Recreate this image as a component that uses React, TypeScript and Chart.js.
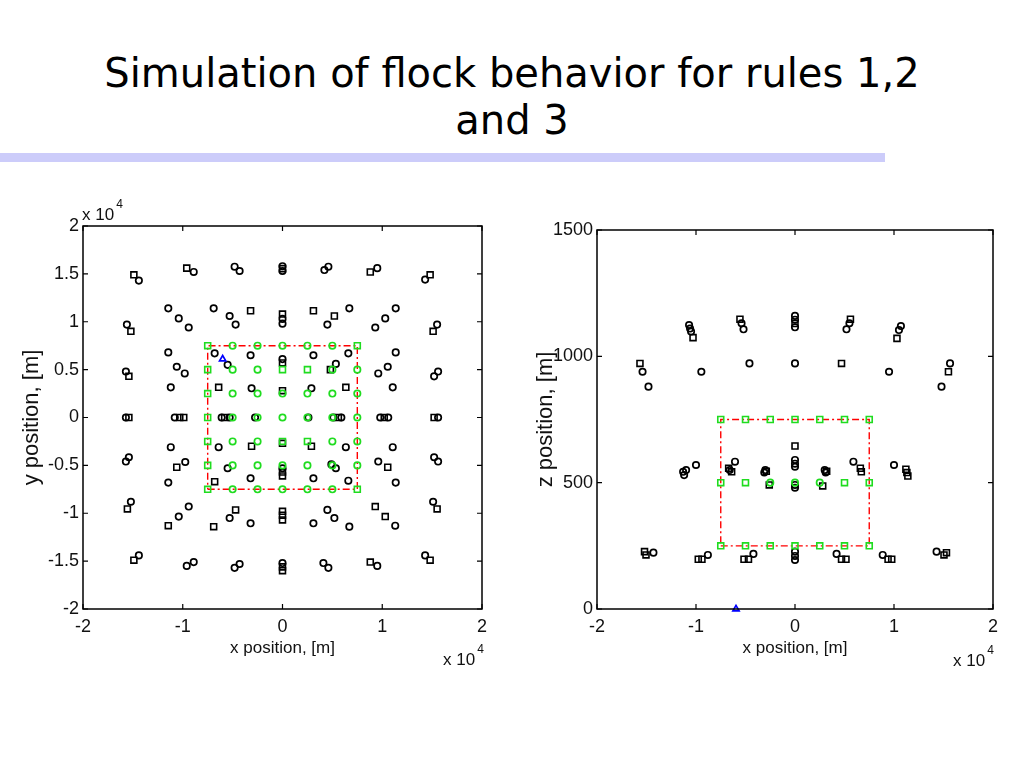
import React, { useEffect, useRef } from "react";
import { Chart, registerables } from "chart.js";

Chart.register(...registerables);

type P = [number, number];

// ---------- tick labels ----------
const xTicks = [-2, -1, 0, 1, 2];
const leftYTicks = [-2, -1.5, -1, -0.5, 0, 0.5, 1, 1.5, 2];
const rightYTicks = [0, 500, 1000, 1500];

// ---------- left panel: x–y plane (x in units of 1e4 m) ----------
const leftBlackCircles: P[] = [
  [-1.44, 1.43], [-0.89, 1.52], [-0.48, 1.575], [-0.43, 1.53], [0, 1.58], [0, 1.53],
  [0.42, 1.54], [0.46, 1.575], [0.95, 1.56], [1.43, 1.44],
  [-1.145, 1.14], [-1.04, 1.035], [-0.94, 0.94], [-0.69, 1.14], [-0.53, 1.06], [-0.47, 0.97],
  [0, 1.03], [0, 0.98], [0.45, 0.97], [0.67, 1.14], [0.93, 0.94], [1.03, 1.035], [1.135, 1.14],
  [-1.56, 0.97], [1.55, 0.97],
  [-1.57, 0.48], [-1.57, 0], [-1.57, -0.46], [-1.54, -0.415],
  [1.52, 0.43], [1.56, 0.48], [1.56, 0], [1.52, -0.415], [1.56, -0.46],
  [-1.145, 0.68], [-1.06, 0.53], [-0.98, 0.46], [-1.12, 0.315], [-1.08, 0],
  [-1.12, -0.31], [-0.975, -0.465], [-1.145, -0.68],
  [1.135, 0.68], [1.055, 0.53], [0.96, 0.46], [1.105, 0.315], [0.98, 0], [1.06, 0],
  [1.105, -0.31], [0.96, -0.46], [1.135, -0.68],
  [-0.68, 0.67], [-0.55, 0.55], [-0.61, 0], [-0.53, 0], [-0.64, -0.31], [-0.55, -0.53],
  [-0.32, 0.65], [-0.31, 0.305], [-0.275, 0], [-0.32, -0.635],
  [0, 0.61], [0, -0.53],
  [0.31, 0.65], [0.29, 0.305], [0.26, 0], [0.31, -0.635],
  [0.535, 0.56], [0.51, 0], [0.59, 0], [0.635, -0.31], [0.535, -0.53], [0.49, -0.49],
  [0.66, 0.67], [0.66, -0.66],
  [-1.52, -0.88], [-0.94, -0.93], [-1.04, -1.035], [-0.53, -1.05], [-0.32, -1.105],
  [0.31, -1.105], [0.45, -0.965], [0.52, -1.05], [0.67, -1.14], [1.13, -1.13], [1.51, -0.88],
  [-1.44, -1.44], [-0.96, -1.55], [-0.89, -1.51], [-0.48, -1.57], [-0.43, -1.53],
  [0, -1.52], [0.41, -1.52], [0.46, -1.57], [0.95, -1.55], [1.43, -1.44],
];
const leftBlackSquares: P[] = [
  [-1.49, 1.49], [-0.96, 1.56], [0, 1.555], [0.88, 1.52], [1.48, 1.49],
  [-0.32, 1.115], [0, 1.08], [0.31, 1.115], [0.52, 1.06],
  [-1.52, 0.9], [1.51, 0.9],
  [-1.54, 0.43], [-1.54, 0], [1.52, 0],
  [-1.03, 0], [-0.99, 0], [-1.06, -0.52], [1.02, 0], [1.055, -0.52],
  [-0.64, 0.315], [-0.58, 0], [-0.68, -0.67], [-0.31, -0.3],
  [0, 0.57], [0, 0.28], [0, -0.27], [0, -0.57], [0, -0.61],
  [0.29, -0.3], [0.48, 0.5], [0.635, 0.315], [0.56, 0],
  [-1.555, -0.955], [-1.145, -1.13], [-0.47, -0.965], [-0.69, -1.14],
  [0, -0.98], [0, -1.02], [0, -1.07], [0.93, -0.93], [1.03, -1.035], [1.55, -0.955],
  [-1.49, -1.49], [0, -1.56], [0, -1.6], [0.88, -1.51], [1.48, -1.49],
];
const leftGreenCircles: P[] = [
  [-0.5, 0.75], [-0.25, 0.75], [0, 0.75], [0.25, 0.75], [0.5, 0.75],
  [-0.5, 0.5], [-0.25, 0.5], [0.5, 0.5], [0.75, 0.5],
  [-0.5, 0.25], [-0.25, 0.25], [0, 0.25], [0.25, 0.25], [0.5, 0.25], [0.75, 0.25],
  [-0.5, 0], [-0.25, 0], [0, 0], [0.25, 0], [0.5, 0], [0.75, 0],
  [-0.5, -0.25], [-0.25, -0.25], [0.5, -0.25], [0.75, -0.25],
  [-0.5, -0.5], [-0.25, -0.5], [0, -0.5], [0.25, -0.5], [0.5, -0.5], [0.75, -0.5],
  [-0.5, -0.75], [-0.25, -0.75], [0, -0.75], [0.25, -0.75], [0.5, -0.75],
];
const leftGreenSquares: P[] = [
  [-0.75, 0.75], [-0.75, 0.5], [-0.75, 0.25], [-0.75, 0], [-0.75, -0.25], [-0.75, -0.5],
  [-0.75, -0.75], [0.75, 0.75], [0.75, -0.75], [0.25, 0.5], [0, 0.5], [0.25, -0.25], [0, -0.25],
];
const leftBox: P[] = [[-0.75, -0.75], [0.75, -0.75], [0.75, 0.75], [-0.75, 0.75], [-0.75, -0.75]];
const leftLeader: P[] = [[-0.6, 0.61]];

// ---------- right panel: x–z plane ----------
const rightBlackCircles: P[] = [
  [-1.54, 939], [-1.48, 880], [-1.07, 1124], [-1.06, 1110], [-1.05, 1098], [-0.946, 939],
  [-0.54, 1131], [-0.52, 1107], [-0.46, 972], [0, 1160], [0, 1145], [0, 1115], [0, 972],
  [0.52, 1107], [0.55, 1131], [0.95, 939], [1.05, 1104], [1.07, 1120], [1.48, 880], [1.566, 972],
  [0, 590], [0, 575], [0, 563], [-0.606, 583], [-0.66, 550], [-1.0, 570], [-1.13, 543],
  [-1.12, 530], [-1.1, 550], [-0.3, 550], [-0.31, 540], [0, 491], [0, 480],
  [0.3, 550], [0.31, 540], [0.59, 583], [1.0, 570],
  [-1.43, 223], [-0.88, 214], [-0.42, 218], [0, 227], [0, 210], [0, 194],
  [0.42, 218], [0.886, 214], [1.43, 227],
];
const rightBlackSquares: P[] = [
  [-1.566, 972], [-1.03, 1074], [-0.556, 1147], [0, 1130], [0.47, 972], [0.56, 1147],
  [1.03, 1071], [1.55, 939],
  [0, 645], [-0.67, 557], [-0.64, 543], [-0.29, 545], [-0.26, 491], [0.28, 487], [0.32, 545],
  [0.66, 557], [0.67, 543], [1.12, 553], [1.13, 540], [1.14, 526],
  [-1.52, 227], [-1.505, 214], [-0.977, 197], [-0.94, 197], [-0.515, 197], [-0.47, 197],
  [0.47, 197], [0.515, 197], [0.94, 197], [0.977, 197], [1.505, 214], [1.53, 223],
];
const rightGreenCircles: P[] = [[-0.25, 500], [0, 500], [0.25, 500]];
const rightGreenSquares: P[] = [
  [-0.75, 750], [-0.5, 750], [-0.25, 750], [0, 750], [0.25, 750], [0.5, 750], [0.75, 750],
  [-0.75, 500], [-0.5, 500], [0.5, 500], [0.75, 500],
  [-0.75, 250], [-0.5, 250], [-0.25, 250], [0, 250], [0.25, 250], [0.5, 250], [0.75, 250],
];
const rightBox: P[] = [[-0.75, 250], [0.75, 250], [0.75, 750], [-0.75, 750], [-0.75, 250]];
const rightLeader: P[] = [[-0.596, 0]];

// ---------- helpers ----------
const pts = (a: P[]) => a.map(([x, y]) => ({ x, y }));
const BLACK = "#000000";
const GREEN = "#1fdc1f";
const RED = "#ff0000";
const BLUE = "#0000ff";
const FONT = "'Liberation Sans', Arial, sans-serif";

const framePlugin = {
  id: "matlabFrame",
  afterDatasetsDraw(chart: any) {
    const { ctx, chartArea: a, scales } = chart;
    ctx.save();
    ctx.strokeStyle = "#000";
    ctx.lineWidth = 1.5;
    ctx.strokeRect(a.left, a.top, a.right - a.left, a.bottom - a.top);
    ctx.lineWidth = 1.2;
    const L = 5;
    ctx.beginPath();
    scales.x.ticks.forEach((t: any) => {
      const px = scales.x.getPixelForValue(t.value);
      ctx.moveTo(px, a.bottom);
      ctx.lineTo(px, a.bottom - L);
      ctx.moveTo(px, a.top);
      ctx.lineTo(px, a.top + L);
    });
    scales.y.ticks.forEach((t: any) => {
      const py = scales.y.getPixelForValue(t.value);
      ctx.moveTo(a.left, py);
      ctx.lineTo(a.left + L, py);
      ctx.moveTo(a.right, py);
      ctx.lineTo(a.right - L, py);
    });
    ctx.stroke();
    ctx.restore();
  },
};

type PanelProps = {
  left: number;
  top: number;
  width: number;
  height: number;
  padTop: number;
  padRight: number;
  yAxisW: number;
  xAxisH: number;
  yTitlePad: number;
  yMin: number;
  yMax: number;
  yTicks: number[];
  yTitle: string;
  blackC: P[];
  blackS: P[];
  greenC: P[];
  greenS: P[];
  box: P[];
  leader: P[];
};

function Panel(p: PanelProps) {
  const ref = useRef<HTMLCanvasElement | null>(null);
  useEffect(() => {
    if (!ref.current) return;
    const circ = { pointRadius: 3.2, pointBorderWidth: 1.7, pointBackgroundColor: "rgba(0,0,0,0)", showLine: false, pointStyle: "circle" };
    const sq = { pointRadius: 4.2, pointBorderWidth: 1.6, pointBackgroundColor: "rgba(0,0,0,0)", showLine: false, pointStyle: "rect" };
    const chart = new Chart(ref.current, {
      type: "scatter",
      data: {
        datasets: [
          { ...circ, data: pts(p.blackC), pointBorderColor: BLACK, order: 4 },
          { ...sq, data: pts(p.blackS), pointBorderColor: BLACK, order: 4 },
          {
            data: pts(p.box),
            showLine: true,
            borderColor: RED,
            borderWidth: 1.4,
            borderDash: [7, 3, 2, 3],
            pointRadius: 0,
            fill: false,
            order: 3,
          },
          { ...circ, data: pts(p.greenC), pointBorderColor: GREEN, order: 2 },
          { ...sq, data: pts(p.greenS), pointBorderColor: GREEN, order: 2 },
          {
            ...circ,
            data: pts(p.leader),
            pointStyle: "triangle",
            pointRadius: 3.6,
            pointBorderColor: BLUE,
            clip: false,
            order: 1,
          },
        ] as any,
      },
      options: {
        animation: false,
        responsive: false,
        maintainAspectRatio: false,
        events: [],
        layout: { padding: { left: 0, top: p.padTop, right: p.padRight, bottom: 0 } },
        plugins: { legend: { display: false }, tooltip: { enabled: false } },
        scales: {
          x: {
            type: "linear",
            min: -2,
            max: 2,
            afterBuildTicks: (s: any) => {
              s.ticks = xTicks.map((v) => ({ value: v }));
            },
            afterFit: (s: any) => {
              s.height = p.xAxisH;
            },
            ticks: {
              callback: (v: any) => String(v),
              font: { family: FONT, size: 18 },
              color: "#111",
              padding: 7,
              maxRotation: 0,
              autoSkip: false,
            },
            grid: { display: false, drawTicks: false },
            border: { display: false },
            title: {
              display: true,
              text: "x position, [m]",
              font: { family: FONT, size: 17 },
              color: "#111",
              padding: { top: 21, bottom: 21 },
            },
          },
          y: {
            type: "linear",
            min: p.yMin,
            max: p.yMax,
            afterBuildTicks: (s: any) => {
              s.ticks = p.yTicks.map((v) => ({ value: v }));
            },
            afterFit: (s: any) => {
              s.width = p.yAxisW;
            },
            ticks: {
              callback: (v: any) => String(v),
              font: { family: FONT, size: 18 },
              color: "#111",
              padding: 4,
              autoSkip: false,
            },
            grid: { display: false, drawTicks: false },
            border: { display: false },
            title: {
              display: true,
              text: p.yTitle,
              font: { family: FONT, size: 22 },
              color: "#111",
              padding: { top: p.yTitlePad, bottom: p.yTitlePad },
            },
          },
        },
      } as any,
      plugins: [framePlugin as any],
    });
    return () => chart.destroy();
  }, []);
  return (
    <canvas
      ref={ref}
      width={p.width}
      height={p.height}
      style={{ position: "absolute", left: p.left, top: p.top, width: p.width, height: p.height }}
    />
  );
}

function Exponent({ left, top }: { left: number; top: number }) {
  return (
    <div style={{ position: "absolute", left, top, fontFamily: FONT, color: "#111", whiteSpace: "nowrap" }}>
      <span style={{ fontSize: 17, lineHeight: "20px" }}>x 10</span>
      <span style={{ fontSize: 12, position: "relative", top: -12, marginLeft: 2 }}>4</span>
    </div>
  );
}

export default function App() {
  return (
    <div
      style={{
        position: "fixed",
        left: 0,
        top: 0,
        width: 1024,
        height: 768,
        background: "#ffffff",
        overflow: "hidden",
      }}
    >
      <div
        style={{
          position: "absolute",
          left: 0,
          top: 50,
          width: 1024,
          textAlign: "center",
          fontFamily: "'DejaVu Sans', sans-serif",
          fontSize: 40,
          lineHeight: "47px",
          color: "#000",
        }}
      >
        Simulation of flock behavior for rules 1,2
        <br />
        and 3
      </div>
      <div style={{ position: "absolute", left: 0, top: 153, width: 885, height: 9, background: "#ccccfa" }} />

      <Panel
        left={0}
        top={190}
        width={505}
        height={490}
        padTop={36}
        padRight={23}
        yAxisW={83}
        xAxisH={71}
        yTitlePad={19}
        yMin={-2}
        yMax={2}
        yTicks={leftYTicks}
        yTitle="y position, [m]"
        blackC={leftBlackCircles}
        blackS={leftBlackSquares}
        greenC={leftGreenCircles}
        greenS={leftGreenSquares}
        box={leftBox}
        leader={leftLeader}
      />
      <Panel
        left={512}
        top={190}
        width={512}
        height={490}
        padTop={40}
        padRight={31}
        yAxisW={85}
        xAxisH={71}
        yTitlePad={21}
        yMin={0}
        yMax={1500}
        yTicks={rightYTicks}
        yTitle="z position, [m]"
        blackC={rightBlackCircles}
        blackS={rightBlackSquares}
        greenC={rightGreenCircles}
        greenS={rightGreenSquares}
        box={rightBox}
        leader={rightLeader}
      />

      <Exponent left={82} top={205} />
      <Exponent left={443} top={650} />
      <Exponent left={953} top={651} />
    </div>
  );
}
